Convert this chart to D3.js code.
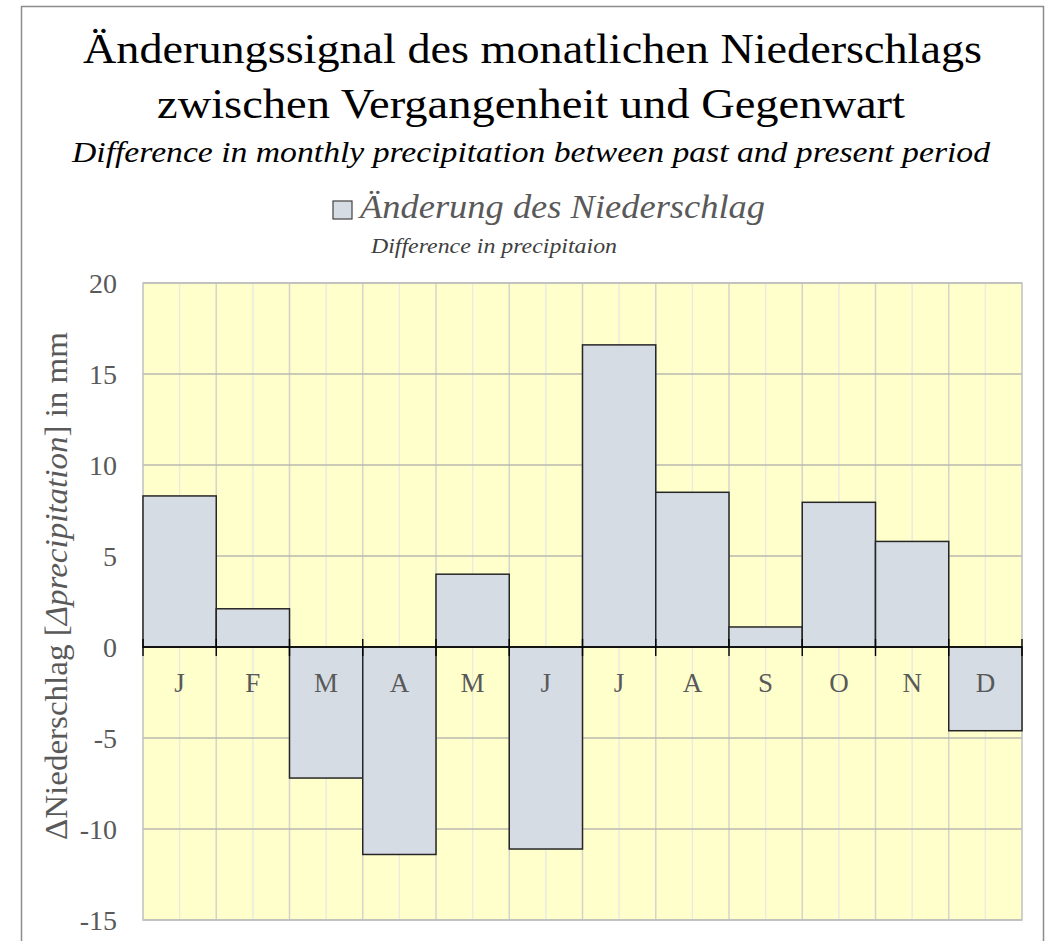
<!DOCTYPE html>
<html>
<head>
<meta charset="utf-8">
<script src="https://cdn.jsdelivr.net/npm/d3@7"></script>
<style>
  body { margin: 0; background: #fff; }
  svg { display: block; font-family: "Liberation Serif", "Times New Roman", serif; }
</style>
</head>
<body>
<div id="chart"></div>
<script>
// data
var months = ["J", "F", "M", "A", "M", "J", "J", "A", "S", "O", "N", "D"];
var deltaPrecip = [8.3, 2.1, -7.2, -11.4, 4.0, -11.1, 16.6, 8.5, 1.1, 7.95, 5.8, -4.6];
var yTicks = [-15, -10, -5, 0, 5, 10, 15, 20];

var width = 1051,
    height = 941;

var margin = {left: 143, right: 29, top: 283, bottom: 21};

var svg = d3.select("#chart")
    .append("svg")
    .attr("width", width)
    .attr("height", height);

// outer frame
svg.append("path")
    .attr("d", "M21.5,945 V6.5 H1043.5 V945")
    .attr("fill", "none")
    .attr("stroke", "#8c8c8c")
    .attr("stroke-width", 1.5);

// titles (stretched like the original)
svg.append("text")
    .attr("x", 83).attr("y", 63)
    .attr("textLength", 899)
    .attr("lengthAdjust", "spacingAndGlyphs")
    .style("font-size", "42px")
    .text("Änderungssignal des monatlichen Niederschlags");

svg.append("text")
    .attr("x", 157).attr("y", 118)
    .attr("textLength", 748)
    .attr("lengthAdjust", "spacingAndGlyphs")
    .style("font-size", "42px")
    .text("zwischen Vergangenheit und Gegenwart");

svg.append("text")
    .attr("x", 72).attr("y", 162)
    .attr("textLength", 918)
    .attr("lengthAdjust", "spacingAndGlyphs")
    .style("font-size", "29px")
    .style("font-style", "italic")
    .text("Difference in monthly precipitation between past and present period");

// legend
svg.append("rect")
    .attr("x", 333).attr("y", 201)
    .attr("width", 19).attr("height", 18)
    .attr("fill", "#d6dce4")
    .attr("stroke", "#404040")
    .attr("stroke-width", 1.2);

svg.append("text")
    .attr("x", 360).attr("y", 218)
    .attr("textLength", 405)
    .attr("lengthAdjust", "spacingAndGlyphs")
    .style("font-size", "34px")
    .style("font-style", "italic")
    .attr("fill", "#595959")
    .text("Änderung des Niederschlag");

svg.append("text")
    .attr("x", 371).attr("y", 253)
    .attr("textLength", 246)
    .attr("lengthAdjust", "spacingAndGlyphs")
    .style("font-size", "20px")
    .style("font-style", "italic")
    .attr("fill", "#404040")
    .text("Difference in precipitaion");

var x0 = margin.left,
    x1 = width - margin.right,
    yTop = margin.top,
    yBot = height - margin.bottom;

var x = d3.scaleBand()
    .domain(d3.range(months.length))
    .range([x0, x1])
    .padding(0);

var y = d3.scaleLinear()
    .domain([-15, 20])
    .range([yBot, yTop]);

// plot background
svg.append("rect")
    .attr("x", x0).attr("y", yTop)
    .attr("width", x1 - x0).attr("height", yBot - yTop)
    .attr("fill", "#ffffcc");

// vertical gridlines: month centres (light) and boundaries
var grid = svg.append("g");
grid.selectAll("line.mid")
    .data(d3.range(months.length))
    .enter().append("line")
    .attr("class", "mid")
    .attr("x1", function (d) { return x(d) + x.bandwidth() / 2; })
    .attr("x2", function (d) { return x(d) + x.bandwidth() / 2; })
    .attr("y1", yTop).attr("y2", yBot)
    .attr("stroke", "#ebebe0")
    .attr("stroke-width", 1.5);

grid.selectAll("line.bound")
    .data(d3.range(1, months.length))
    .enter().append("line")
    .attr("class", "bound")
    .attr("x1", function (d) { return x(d); })
    .attr("x2", function (d) { return x(d); })
    .attr("y1", yTop).attr("y2", yBot)
    .attr("stroke", "#d4d4cc")
    .attr("stroke-width", 1.5);

grid.selectAll("line.h")
    .data(yTicks)
    .enter().append("line")
    .attr("class", "h")
    .attr("x1", x0).attr("x2", x1)
    .attr("y1", function (d) { return y(d); })
    .attr("y2", function (d) { return y(d); })
    .attr("stroke", "#b8b8b0")
    .attr("stroke-width", 1.5);

// plot border
svg.append("rect")
    .attr("x", x0).attr("y", yTop)
    .attr("width", x1 - x0).attr("height", yBot - yTop)
    .attr("fill", "none")
    .attr("stroke", "#c0c0c0")
    .attr("stroke-width", 1.5);

// bars
svg.append("g")
    .selectAll("rect")
    .data(deltaPrecip)
    .enter().append("rect")
    .attr("x", function (d, i) { return x(i); })
    .attr("width", x.bandwidth())
    .attr("y", function (d) { return y(Math.max(0, d)); })
    .attr("height", function (d) { return Math.abs(y(d) - y(0)); })
    .attr("fill", "#d6dce4")
    .attr("stroke", "#262626")
    .attr("stroke-width", 1.5);

// zero axis with crossing ticks at month boundaries
var xAxis = svg.append("g")
    .attr("transform", "translate(0," + y(0) + ")");

xAxis.append("line")
    .attr("x1", x0).attr("x2", x1)
    .attr("stroke", "#000")
    .attr("stroke-width", 1.6);

xAxis.selectAll("line.tick")
    .data(d3.range(months.length + 1))
    .enter().append("line")
    .attr("class", "tick")
    .attr("x1", function (d) { return x0 + d * x.step(); })
    .attr("x2", function (d) { return x0 + d * x.step(); })
    .attr("y1", -8).attr("y2", 9)
    .attr("stroke", "#000")
    .attr("stroke-width", 1.4);

xAxis.selectAll("text")
    .data(months)
    .enter().append("text")
    .attr("x", function (d, i) { return x(i) + x.bandwidth() / 2; })
    .attr("y", 45)
    .attr("text-anchor", "middle")
    .attr("fill", "#595959")
    .style("font-size", "27px")
    .text(function (d) { return d; });

// y axis labels (plain hyphen minus like the original)
var yAxis = svg.append("g")
    .attr("transform", "translate(" + (x0 - 26) + ",0)")
    .call(d3.axisLeft(y).tickValues(yTicks).tickSize(0).tickPadding(0)
        .tickFormat(function (d) { return String(d); }));

yAxis.select(".domain").remove();
yAxis.selectAll("text")
    .attr("fill", "#595959")
    .style("font-family", "'Liberation Serif', serif")
    .style("font-size", "28px")
    .attr("dy", "0.34em");

// y axis title
var yTitle = svg.append("text")
    .attr("transform", "translate(67,586) rotate(-90)")
    .attr("text-anchor", "middle")
    .attr("textLength", 508)
    .attr("lengthAdjust", "spacingAndGlyphs")
    .attr("fill", "#595959")
    .style("font-size", "31px");
yTitle.append("tspan").text("ΔNiederschlag [");
yTitle.append("tspan").style("font-style", "italic").text("Δprecipitation");
yTitle.append("tspan").text("] in mm");
</script>
</body>
</html>
